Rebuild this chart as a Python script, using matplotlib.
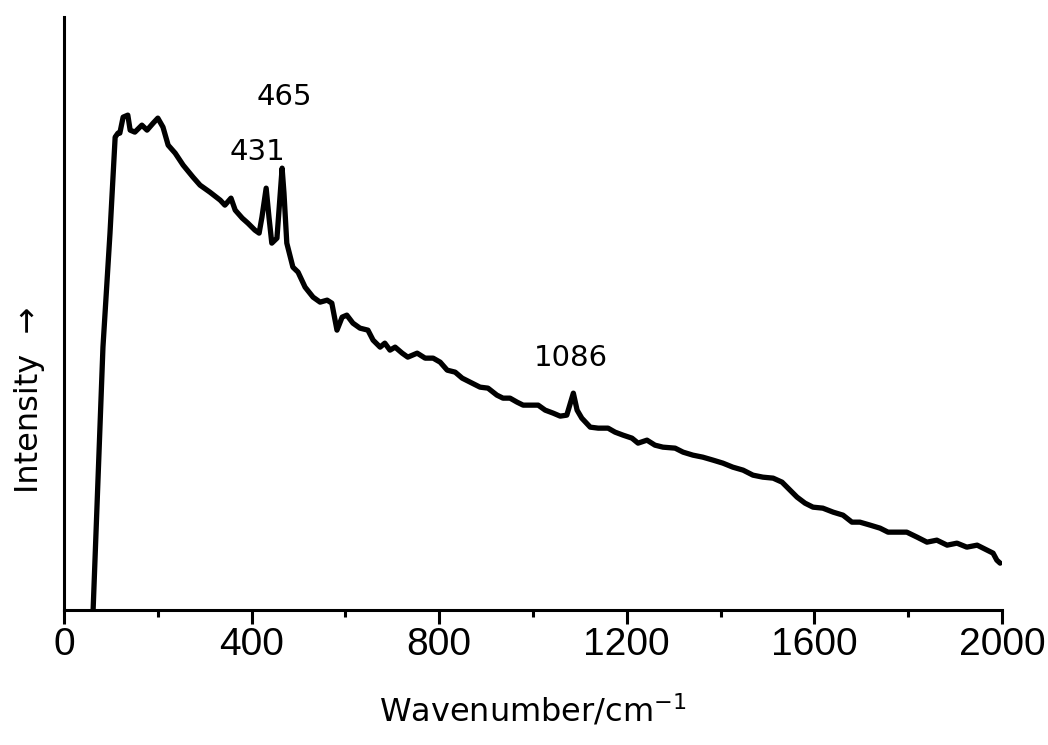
import numpy as np
import matplotlib
matplotlib.use("Agg")
import matplotlib.pyplot as plt
from matplotlib.ticker import MultipleLocator

# Raman spectrum, wavenumber (cm-1) and intensity (arb. units)
wavenumber = [62, 83, 98, 109, 115, 119, 126, 136, 141, 151, 166, 177, 190, 200, 211,
              222, 237, 254, 275, 290, 311, 333, 343, 356, 365, 380, 392, 407, 416,
              422, 431, 437, 443, 454, 465, 469, 475, 488, 499, 514, 531, 546, 561,
              571, 582, 593, 603, 616, 631, 648, 659, 674, 684, 695, 706, 721, 733,
              753, 770, 787, 802, 817, 834, 849, 866, 887, 904, 923, 936, 951, 966,
              979, 998, 1011, 1026, 1043, 1058, 1072, 1086, 1094, 1104, 1122, 1139,
              1160, 1175, 1192, 1211, 1224, 1243, 1260, 1277, 1303, 1320, 1341, 1362,
              1384, 1405, 1426, 1448, 1469, 1490, 1512, 1531, 1548, 1563, 1580, 1597,
              1618, 1640, 1661, 1680, 1697, 1719, 1740, 1757, 1776, 1797, 1819, 1840,
              1861, 1883, 1904, 1925, 1947, 1968, 1981, 1989, 1996]
intensity = [0, 263, 377, 473, 477, 477, 493, 495, 480, 478, 485, 480, 487, 492, 483,
             465, 457, 445, 433, 425, 418, 410, 405, 412, 400, 392, 387, 380, 377,
             393, 422, 393, 367, 372, 442, 417, 367, 343, 338, 323, 313, 308, 310,
             307, 280, 293, 295, 287, 282, 280, 270, 263, 267, 260, 263, 257, 253,
             257, 252, 252, 248, 240, 238, 232, 228, 223, 222, 215, 212, 212, 208,
             205, 205, 205, 200, 197, 194, 195, 217, 200, 192, 183, 182,
             182, 178, 175, 172, 167, 170, 165, 163, 162, 158, 155, 153,
             150, 147, 143, 140, 135, 133, 132, 128, 120, 113, 107, 103,
             102, 98, 95, 88, 88, 85, 82, 78, 78, 78, 73, 68,
             70, 65, 67, 63, 65, 60, 57, 50, 47]

peaks = [431, 465, 1086]
peak_label_pos = [(413, 458), (470, 513), (1080, 252)]

fig = plt.figure(figsize=(10.48, 7.45), dpi=100)
ax = fig.add_axes([0.0611, 0.181, 0.895, 0.796])

ax.plot(wavenumber, intensity, color="black", linewidth=3.8,
        solid_joinstyle="round", solid_capstyle="round")

for p, (tx, ty) in zip(peaks, peak_label_pos):
    ax.text(tx, ty, str(p), fontsize=21, ha="center", va="center",
            family="DejaVu Sans")

ax.set_xlim(0, 2000)
ax.set_ylim(0, 593)
ax.spines["top"].set_visible(False)
ax.spines["right"].set_visible(False)
ax.spines["left"].set_linewidth(2.2)
ax.spines["bottom"].set_linewidth(2.2)
ax.set_yticks([])

ax.xaxis.set_major_locator(MultipleLocator(400))
ax.xaxis.set_minor_locator(MultipleLocator(200))
ax.tick_params(axis="x", which="major", direction="out", length=10, width=2.2,
               labelsize=28, pad=2)
ax.tick_params(axis="x", which="minor", direction="out", length=5, width=2.2)
for lbl in ax.get_xticklabels():
    lbl.set_family("Liberation Sans")

ax.set_xlabel(r"Wavenumber/cm$^{\mathregular{-1}}$", fontsize=23,
              family="DejaVu Sans")
ax.xaxis.set_label_coords(0.5, -0.14)
ax.set_ylabel("Intensity  \u2192", fontsize=23, family="DejaVu Sans")
ax.yaxis.set_label_coords(-0.02, 0.354)

fig.savefig("out.png", dpi=100)
